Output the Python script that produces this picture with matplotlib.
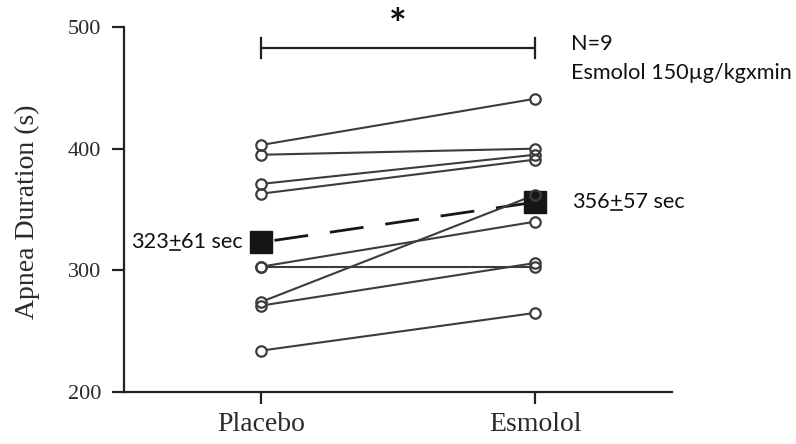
import matplotlib
matplotlib.use("Agg")
import matplotlib.pyplot as plt
from matplotlib.lines import Line2D

# ---- data -------------------------------------------------------------
groups = ["Placebo", "Esmolol"]
placebo = [403, 395, 371, 363, 303, 303, 274, 271, 234]
esmolol = [441, 400, 395, 391, 340, 303, 362, 306, 265]
group_means = [323, 356]
group_sds = [61, 57]
n_subjects = 9
dose_label = "Esmolol 150µg/kgxmin"
y_ticks = [200, 300, 400, 500]
y_label = "Apnea Duration (s)"
bracket_y = 483
star_y = 500

SERIF = ["Liberation Serif", "DejaVu Serif"]
SANS = ["Lato", "DejaVu Sans"]
AXIS_COLOR = "#222222"
LINE_COLOR = "#3c3c3c"
MEAN_COLOR = "#161616"
NOTE_SIZE = 15.6

fig = plt.figure(figsize=(7.96, 4.44), dpi=100)
ax = fig.add_axes([124 / 796, 52 / 444, 548 / 796, 365 / 444])

x = list(range(len(groups)))
ax.set_xlim(-0.5, 1.5)
ax.set_ylim(200, 500)

# axes styling
for side in ("top", "right"):
    ax.spines[side].set_visible(False)
for side in ("left", "bottom"):
    ax.spines[side].set_linewidth(1.6)
    ax.spines[side].set_color(AXIS_COLOR)
ax.tick_params(direction="out", length=8.5, width=1.6, color=AXIS_COLOR,
               labelcolor="#2a2a2a")
ax.tick_params(axis="y", pad=8)
ax.tick_params(axis="x", pad=6)
ax.set_yticks(y_ticks)
ax.set_yticklabels([str(v) for v in y_ticks], family=SERIF, fontsize=16)
ax.set_xticks(x)
ax.set_xticklabels(groups, family=SERIF, fontsize=20)

fig.text(27 / 796, 1 - 212 / 444, y_label, rotation=90, ha="center",
         va="center", family=SERIF, fontsize=20, color="#2a2a2a")

# group means (squares joined by a dashed line)
on, off, lw_mean = 24.5, 15.8, 2.0
ax.plot(x, group_means, color=MEAN_COLOR, lw=lw_mean,
        linestyle=(30.5 / lw_mean, (on / lw_mean, off / lw_mean)), zorder=2)

# individual subjects: lines, white discs, then the mean squares,
# then hollow circle outlines on top
for p, e in zip(placebo, esmolol):
    ax.plot(x, [p, e], color=LINE_COLOR, lw=1.5, zorder=3,
            solid_capstyle="butt")
for p, e in zip(placebo, esmolol):
    ax.plot(x, [p, e], linestyle="none", marker="o", ms=7.5, mfc="white",
            mec="none", zorder=3.2)
ax.plot(x, group_means, linestyle="none", marker="s", ms=15.5,
        color=MEAN_COLOR, zorder=3.5)
for p, e in zip(placebo, esmolol):
    ax.plot(x, [p, e], linestyle="none", marker="o", ms=7.5, mfc="none",
            mec=LINE_COLOR, mew=1.6, zorder=4)

# significance bracket
ax.plot(x, [bracket_y, bracket_y], color=AXIS_COLOR, lw=1.6, clip_on=False)
for xi in x:
    ax.plot([xi, xi], [bracket_y - 8.3, bracket_y + 8.3], color=AXIS_COLOR,
            lw=1.6, clip_on=False)
ax.text(sum(x) / 2, star_y, "*", ha="center", va="center", family=SANS,
        fontsize=30, fontweight="bold", color="#111111", clip_on=False)

# study notes
ax.annotate(f"N={n_subjects}", xy=(1, 481), xytext=(26, 0),
            textcoords="offset points", ha="left", va="baseline",
            family=SANS, fontsize=NOTE_SIZE, color="#111111")
ax.annotate(dose_label, xy=(1, 457), xytext=(26, 0),
            textcoords="offset points", ha="left", va="baseline",
            family=SANS, fontsize=NOTE_SIZE, color="#111111")

# mean ± SD labels, with the plus sign underlined
text_kw = dict(family=SANS, fontsize=NOTE_SIZE, color="#111111")
plus_texts = []

m, s = group_means[0], group_sds[0]
t_tail = ax.annotate(f"{s} sec", xy=(x[0], m), xytext=(-13, 0),
                     textcoords="offset points", ha="right", va="center",
                     **text_kw)
t_plus = ax.annotate("+", xy=(0, 0), xycoords=t_tail, ha="right",
                     va="bottom", **text_kw)
ax.annotate(f"{m}", xy=(0, 0), xycoords=t_plus, ha="right", va="bottom",
            **text_kw)
plus_texts.append(t_plus)

m, s = group_means[1], group_sds[1]
t_head = ax.annotate(f"{m}", xy=(x[1], m), xytext=(27, 0),
                     textcoords="offset points", ha="left", va="center",
                     **text_kw)
t_plus = ax.annotate("+", xy=(1, 0), xycoords=t_head, ha="left",
                     va="bottom", **text_kw)
ax.annotate(f"{s} sec", xy=(1, 0), xycoords=t_plus, ha="left", va="bottom",
            **text_kw)
plus_texts.append(t_plus)

fig.canvas.draw()
renderer = fig.canvas.get_renderer()
for t in plus_texts:
    bb = t.get_window_extent(renderer)
    # line descent used by matplotlib for single-line text boxes
    _, _, descent = renderer.get_text_width_height_descent(
        "lp", t.get_fontproperties(), ismath=False)
    y_line = bb.y0 + descent - 1.5
    (fx0, fy), (fx1, _) = fig.transFigure.inverted().transform(
        [(bb.x0 + 1, y_line), (bb.x1 - 1, y_line)])
    fig.add_artist(Line2D([fx0, fx1], [fy, fy], transform=fig.transFigure,
                          color="#111111", lw=1.2))

fig.savefig("out.png", dpi=100, facecolor="white")
